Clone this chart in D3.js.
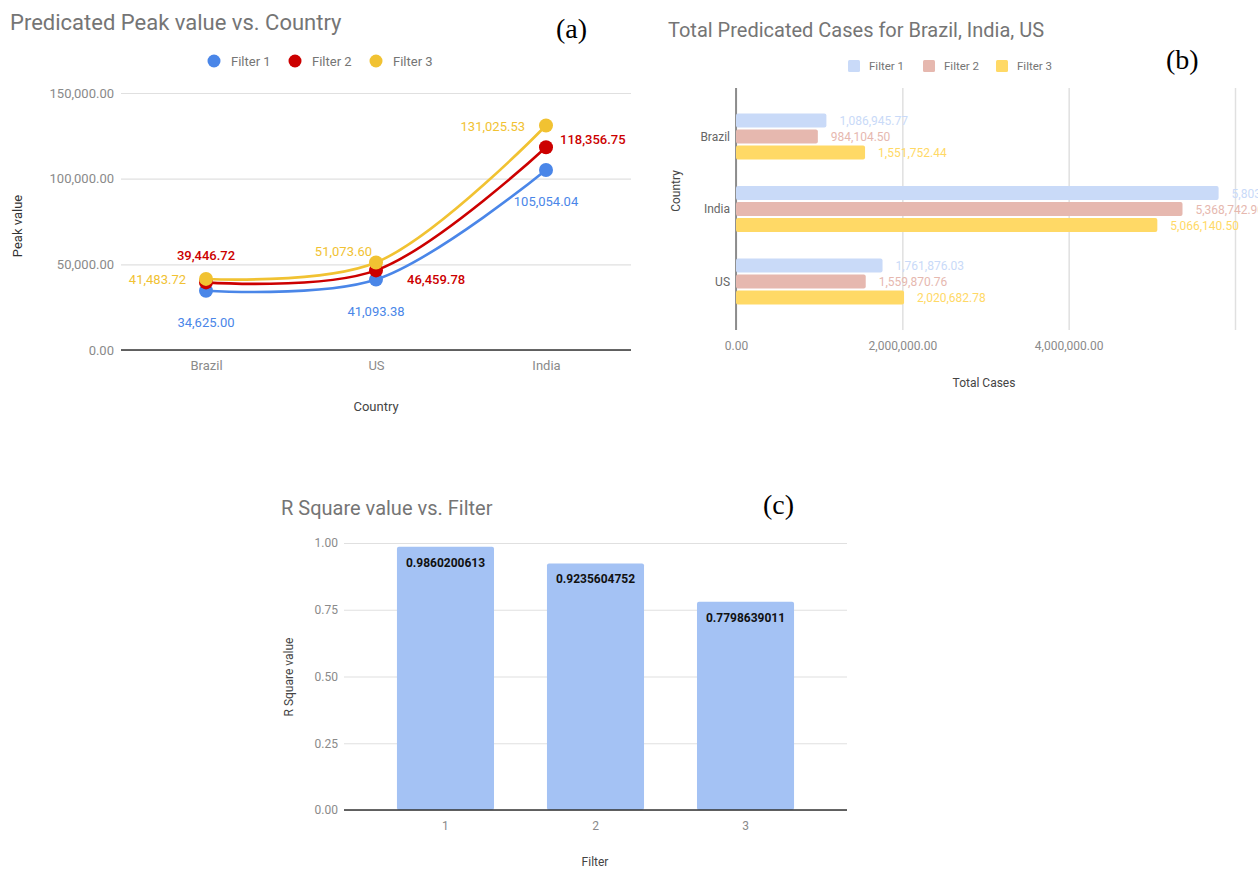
<!DOCTYPE html>
<html>
<head>
<meta charset="utf-8">
<script src="https://cdn.jsdelivr.net/npm/d3@7"></script>
<style>
  html, body { margin: 0; padding: 0; background: #ffffff; overflow: hidden; }
  svg { display: block; font-family: Roboto, "Noto Sans", Arial, sans-serif; }
</style>
</head>
<body>
<script>
// ---------------- DATA ----------------
// (a) Predicated Peak value vs. Country
const peakCountries = ["Brazil", "US", "India"];
const filterNames = ["Filter 1", "Filter 2", "Filter 3"];
const peakFilter1 = [34625.00, 41093.38, 105054.04];
const peakFilter2 = [39446.72, 46459.78, 118356.75];
const peakFilter3 = [41483.72, 51073.60, 131025.53];
const peakTicks = [0, 50000, 100000, 150000];

// (b) Total Predicated Cases for Brazil, India, US
const caseCountries = ["Brazil", "India", "US"];
const casesFilter1 = [1086945.77, 5803000.00, 1761876.03];
const casesFilter2 = [984104.50, 5368742.90, 1559870.76];
const casesFilter3 = [1551752.44, 5066140.50, 2020682.78];
const caseTicks = [0, 2000000, 4000000, 6000000];
const caseTickLabels = ["0.00", "2,000,000.00", "4,000,000.00", ""];

// (c) R Square value vs. Filter
const rsqFilters = ["1", "2", "3"];
const rsqValues = [0.9860200613, 0.9235604752, 0.7798639011];
const rsqTicks = [0, 0.25, 0.5, 0.75, 1];

// ---------------- STYLES ----------------
const lineColors = ["#4a86e8", "#cc0000", "#f1c232"];
const barColors = ["#c9daf8", "#e6b8af", "#ffd966"];
const rsqColor = "#a4c2f4";
const titleColor = "#757575";
const tickColor = "#8a8a8a";
const axisTitleColor = "#444";
const gridColor = "#e0e0e0";
// label placement for (a): [dx, dy, anchor] per series, per category
const peakLabelPlacement = [
  [[0, 36, "middle"], [0, 36, "middle"], [0, 36, "middle"]],
  [[0, -22, "middle"], [31, 14, "start"], [14, -3, "start"]],
  [[-20, 5, "end"], [-4, -6, "end"], [-21, 5, "end"]]
];

const fmt2 = d3.format(",.2f");

const svg = d3.select("body").append("svg")
  .attr("width", 1258).attr("height", 870);
svg.append("rect").attr("width", 1258).attr("height", 870).attr("fill", "#fff");

function styleTicks(g, size) {
  g.selectAll("text").attr("fill", tickColor).style("font-size", size + "px")
    .style("font-family", "Roboto, sans-serif");
}

// ================= PANEL (a) =================
(function () {
  const xA = d3.scalePoint().domain(peakCountries).range([121, 631]).padding(0.5);
  const yA = d3.scaleLinear().domain([0, 150000]).range([350, 93]);

  svg.append("text").attr("x", 10).attr("y", 30).text("Predicated Peak value vs. Country")
    .attr("fill", titleColor).style("font-size", "22px");
  svg.append("text").attr("x", 556).attr("y", 38).text("(a)")
    .style("font-family", "'Liberation Serif', 'Times New Roman', serif").style("font-size", "28px").attr("fill", "#000");

  // legend
  const leg = svg.append("g");
  const legX = [214, 295, 376];
  filterNames.forEach((f, i) => {
    leg.append("circle").attr("cx", legX[i]).attr("cy", 61).attr("r", 6.5).attr("fill", lineColors[i]);
    leg.append("text").attr("x", legX[i] + 17).attr("y", 65.5).text(f)
      .attr("fill", "#757575").style("font-size", "13px");
  });

  const gy = svg.append("g").attr("transform", "translate(121,0)")
    .call(d3.axisLeft(yA).tickValues(peakTicks).tickSize(-510).tickPadding(7).tickFormat(fmt2));
  gy.select(".domain").remove();
  gy.selectAll("line").attr("stroke", gridColor).attr("stroke-width", 1.2);
  styleTicks(gy, 13);

  svg.append("line").attr("x1", 121).attr("x2", 631).attr("y1", yA(0)).attr("y2", yA(0))
    .attr("stroke", "#333").attr("stroke-width", 1.5);

  const gx = svg.append("g").attr("transform", "translate(0,350)")
    .call(d3.axisBottom(xA).tickSize(0).tickPadding(11));
  gx.select(".domain").remove();
  styleTicks(gx, 13);

  svg.append("text").attr("x", 376).attr("y", 411).attr("text-anchor", "middle").text("Country")
    .attr("fill", axisTitleColor).style("font-size", "13px");
  svg.append("text").attr("transform", "translate(22,226) rotate(-90)").attr("text-anchor", "middle")
    .text("Peak value").attr("fill", "#333").style("font-size", "13px");

  const series = [peakFilter1, peakFilter2, peakFilter3];
  const line = d3.line().x((d, i) => xA(peakCountries[i])).y(d => yA(d))
    .curve(d3.curveCatmullRom.alpha(0.5));
  series.forEach((s, k) => {
    svg.append("path").attr("d", line(s)).attr("fill", "none")
      .attr("stroke", lineColors[k]).attr("stroke-width", 2.6);
  });
  series.forEach((s, k) => {
    s.forEach((v, i) => {
      svg.append("circle").attr("cx", xA(peakCountries[i])).attr("cy", yA(v)).attr("r", 7)
        .attr("fill", lineColors[k]);
    });
  });
  series.forEach((s, k) => {
    s.forEach((v, i) => {
      const p = peakLabelPlacement[k][i];
      svg.append("text").attr("x", xA(peakCountries[i]) + p[0]).attr("y", yA(v) + p[1])
        .attr("text-anchor", p[2]).text(fmt2(v))
        .attr("fill", lineColors[k]).style("font-size", "13px")
        .style("font-weight", k === 1 ? "500" : "400");
    });
  });
})();

// ================= PANEL (b) =================
(function () {
  const xB = d3.scaleLinear().domain([0, 6000000]).range([736, 1235]);
  const yB = d3.scalePoint().domain(caseCountries).range([88, 330]).padding(0.669);
  const sB = d3.scaleBand().domain(filterNames).range([-24, 24]).paddingInner(0.125).paddingOuter(0.0625);

  svg.append("text").attr("x", 668).attr("y", 37).text("Total Predicated Cases for Brazil, India, US")
    .attr("fill", titleColor).style("font-size", "20px");
  svg.append("text").attr("x", 1166).attr("y", 69).text("(b)")
    .style("font-family", "'Liberation Serif', 'Times New Roman', serif").style("font-size", "28px").attr("fill", "#000");

  const legX = [848, 923, 996];
  filterNames.forEach((f, i) => {
    svg.append("rect").attr("x", legX[i]).attr("y", 60).attr("width", 12).attr("height", 12)
      .attr("rx", 1.5).attr("fill", barColors[i]);
    svg.append("text").attr("x", legX[i] + 21).attr("y", 70).text(f)
      .attr("fill", "#757575").style("font-size", "11.5px");
  });

  const gx = svg.append("g").attr("transform", "translate(0,330)")
    .call(d3.axisBottom(xB).tickValues(caseTicks).tickSize(-242).tickPadding(11)
      .tickFormat((d, i) => caseTickLabels[i]));
  gx.select(".domain").remove();
  gx.selectAll("line").attr("stroke", gridColor).attr("stroke-width", 1.5);
  styleTicks(gx, 12);

  svg.append("line").attr("x1", 736).attr("x2", 736).attr("y1", 88).attr("y2", 330)
    .attr("stroke", "#777").attr("stroke-width", 1.6);

  const gy = svg.append("g").attr("transform", "translate(736,0)")
    .call(d3.axisLeft(yB).tickSize(0).tickPadding(6));
  gy.select(".domain").remove();
  styleTicks(gy, 12);
  gy.selectAll("text").attr("fill", "#666");

  svg.append("text").attr("x", 984).attr("y", 387).attr("text-anchor", "middle").text("Total Cases")
    .attr("fill", axisTitleColor).style("font-size", "12px");
  svg.append("text").attr("transform", "translate(680,191) rotate(-90)").attr("text-anchor", "middle")
    .text("Country").attr("fill", axisTitleColor).style("font-size", "12px");

  const series = [casesFilter1, casesFilter2, casesFilter3];
  series.forEach((s, k) => {
    s.forEach((v, i) => {
      const y0 = yB(caseCountries[i]) + sB(filterNames[k]);
      svg.append("rect").attr("x", xB(0)).attr("y", y0).attr("width", xB(v) - xB(0))
        .attr("height", sB.bandwidth()).attr("rx", 2).attr("fill", barColors[k]);
      svg.append("text").attr("x", xB(v) + 13).attr("y", y0 + sB.bandwidth() / 2 + 4.5)
        .text(fmt2(v)).attr("fill", barColors[k]).style("font-size", "12px");
    });
  });
})();

// ================= PANEL (c) =================
(function () {
  const xC = d3.scaleBand().domain(rsqFilters).range([344, 847]).padding(0.353);
  const yC = d3.scaleLinear().domain([0, 1]).range([810, 543]);

  svg.append("text").attr("x", 281).attr("y", 515).text("R Square value vs. Filter")
    .attr("fill", titleColor).style("font-size", "20px");
  svg.append("text").attr("x", 763).attr("y", 514).text("(c)")
    .style("font-family", "'Liberation Serif', 'Times New Roman', serif").style("font-size", "28px").attr("fill", "#000");

  const gy = svg.append("g").attr("transform", "translate(344,0)")
    .call(d3.axisLeft(yC).tickValues(rsqTicks).tickSize(-503).tickPadding(6).tickFormat(d3.format(".2f")));
  gy.select(".domain").remove();
  gy.selectAll("line").attr("stroke", gridColor).attr("stroke-width", 1.2);
  styleTicks(gy, 12);

  rsqValues.forEach((v, i) => {
    svg.append("rect").attr("x", xC(rsqFilters[i])).attr("y", yC(v))
      .attr("width", xC.bandwidth()).attr("height", yC(0) - yC(v)).attr("rx", 2).attr("fill", rsqColor);
    svg.append("text").attr("x", xC(rsqFilters[i]) + xC.bandwidth() / 2).attr("y", yC(v) + 20)
      .attr("text-anchor", "middle").text(String(v)).attr("fill", "#111")
      .style("font-size", "12px").style("font-weight", "700");
  });

  svg.append("line").attr("x1", 344).attr("x2", 847).attr("y1", yC(0)).attr("y2", yC(0))
    .attr("stroke", "#333").attr("stroke-width", 1.5);

  const gx = svg.append("g").attr("transform", "translate(0,810)")
    .call(d3.axisBottom(xC).tickSize(0).tickPadding(11));
  gx.select(".domain").remove();
  styleTicks(gx, 12);

  svg.append("text").attr("x", 595).attr("y", 866).attr("text-anchor", "middle").text("Filter")
    .attr("fill", axisTitleColor).style("font-size", "12px");
  svg.append("text").attr("transform", "translate(293,677) rotate(-90)").attr("text-anchor", "middle")
    .text("R Square value").attr("fill", axisTitleColor).style("font-size", "12px");
})();
</script>
</body>
</html>
